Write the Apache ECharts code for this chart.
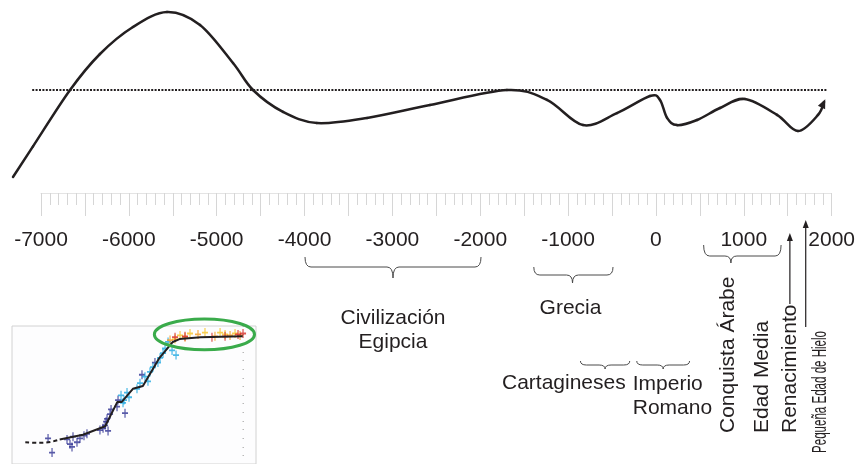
<!DOCTYPE html>
<html>
<head>
<meta charset="utf-8">
<script src="https://cdn.jsdelivr.net/npm/echarts@6.0.0/dist/echarts.min.js"></script>
<style>
  html, body { margin: 0; padding: 0; background: #fff; }
  #chart { width: 858px; height: 464px; }
</style>
</head>
<body>
<div id="chart"></div>
<script>
// curva de temperatura (años, anomalía relativa)
const curveYears = [-7318, -7091, -6670, -6330, -5955, -5568, -5193, -4818, -4591, -4250, -3864, -3295, -2580, -1705, -1250, -841, -455, -80, 34, 114, 227, 455, 716, 1000, 1364, 1602, 1830, 1898];
const curveValues = [-2.9, -1.88, 0, 1.2, 2.1, 2.6, 2.17, 0.9, 0, -0.73, -1.1, -0.93, -0.5, 0, -0.33, -1.17, -0.77, -0.2, -0.33, -0.93, -1.17, -1.0, -0.6, -0.3, -0.83, -1.37, -0.83, -0.4];
const baselineYears = [-7100, 1930];
const baselineValues = [0, 0];

// periodos históricos (llaves)
const eraNames = ['Civilización\nEgipcia', 'Grecia', 'Cartagineses', 'Imperio\nRomano', 'Conquista Árabe'];
const eraStart = [-4000, -1400, -870, -230, 530];
const eraEnd = [-2000, -500, -310, 370, 1410];
const eraTip = [-3000, -960, -590, 70, 840];

// eventos con texto vertical
const eventNames = ['Edad Media', 'Renacimiento', 'Pequeña Edad de Hielo'];
const eventYears = [1190, 1510, 1690];

// recuadro: subida del nivel del mar (miles de años, metros)
const insetDashed = [[-20.8, -124.8], [-19.3, -125.5], [-17.7, -121.5]];
const insetLine = [[-17.7, -121.5], [-15.6, -116.1], [-13.6, -106.3], [-12.5, -78], [-12.1, -78], [-11.1, -62.8], [-10.2, -59.6], [-8.7, -26.9], [-7.5, -8.5], [-6.9, -5.2], [-5.0, -3.0], [-1.2, -2.0]];
const navyPts = [[-18.75, -120.4], [-18.39, -136.7], [-17.04, -121.5], [-16.77, -127.0], [-16.59, -130.2], [-16.5, -118.3], [-16.14, -124.8], [-15.87, -120.4], [-15.51, -117.2], [-15.24, -115.0], [-14.07, -110.7], [-13.79, -108.5], [-13.61, -105.2], [-13.52, -100.9], [-13.43, -97.6], [-13.34, -111.7], [-13.16, -92.2], [-13.07, -86.7], [-12.53, -83.5], [-12.44, -75.9], [-11.81, -91.1], [-10.28, -46.5], [-9.11, -32.4]];
const bluePts = [[-12.17, -70.4], [-11.9, -75.9], [-11.63, -67.2], [-11.45, -72.6], [-11.99, -79.1], [-10.73, -62.8], [-10.46, -56.3], [-10.01, -48.7], [-9.74, -54.1], [-9.56, -43.3], [-9.29, -37.8], [-8.84, -32.4], [-8.65, -26.9], [-8.38, -21.5], [-8.2, -16.1], [-7.57, -18.3], [-7.21, -23.7], [-7.93, -8.5]];
const yellowPts = [[-6.85, -0.9], [-5.95, 1.3], [-4.6, 2.4], [-3.24, 2.4], [-1.89, 1.3], [-7.3, -5.2], [-2.79, 0.2]];
const orangePts = [[-7.75, -6.3], [-5.23, 0.2], [-3.7, -2.0], [-2.34, -0.9], [-1.44, -0.9], [-6.4, -3.0]];
const redPts = [[-7.3, -3.0], [-6.4, -2.0], [-3.97, -3.0], [-2.79, -2.0], [-1.62, 0.2], [-1.17, 1.3]];
const highlightBox = [[-9.3, 0.0, 19.8, -19.3]];

const INK = '#231f20';
const FONT = '"Liberation Sans", Arial, sans-serif';

// posición de llaves y textos (y en px de la rejilla de anotaciones)
const eraLayout = [
  { top: 257, bottom: 267, tip: 278, labelY: 330, at: 'tip', align: 'center', dx: 0 },
  { top: 267, bottom: 275, tip: 283, labelY: 308, at: 'tip', align: 'center', dx: -2 },
  { top: 361, bottom: 365, tip: 369, labelY: 383, at: 'end', align: 'right', dx: -4 },
  { top: 361, bottom: 365, tip: 369, labelY: 396, at: 'start', align: 'left', dx: -4 },
  { top: 245, bottom: 256, tip: 263, labelY: 433, at: 'tip', align: 'left', dx: -3, vertical: true }
];
const eventLayout = [
  { dx: 0, bottom: 433, arrow: null, size: 21, scale: 1 },
  { dx: 0, bottom: 433, arrow: [304, 233], size: 21, scale: 1 },
  { dx: 14, bottom: 453, arrow: [327, 220], size: 21, scale: 0.55 }
];

const myChart = echarts.init(document.getElementById('chart'));

// tramo de Catmull-Rom entre el punto i y el i+1; el último punto lleva la flecha
function renderCurve(params, api) {
  const n = curveYears.length;
  const i = params.dataIndex;
  const P = j => {
    const k = Math.max(0, Math.min(n - 1, j));
    return api.coord([curveYears[k], curveValues[k]]);
  };
  if (i === n - 1) {
    const p = P(i), q = P(i - 1);
    const len = Math.hypot(p[0] - q[0], p[1] - q[1]);
    const dx = (p[0] - q[0]) / len, dy = (p[1] - q[1]) / len;
    const tip = [p[0] + dx * 3, p[1] + dy * 3];
    const base = [p[0] - dx * 6, p[1] - dy * 6];
    return {
      type: 'polygon',
      shape: { points: [tip, [base[0] - dy * 4, base[1] + dx * 4], [base[0] + dy * 4, base[1] - dx * 4]] },
      style: { fill: INK }
    };
  }
  const p0 = P(i - 1), p1 = P(i), p2 = P(i + 1), p3 = P(i + 2);
  return {
    type: 'bezierCurve',
    shape: {
      x1: p1[0], y1: p1[1],
      cpx1: p1[0] + (p2[0] - p0[0]) / 6, cpy1: p1[1] + (p2[1] - p0[1]) / 6,
      cpx2: p2[0] - (p3[0] - p1[0]) / 6, cpy2: p2[1] - (p3[1] - p1[1]) / 6,
      x2: p2[0], y2: p2[1]
    },
    style: { stroke: INK, lineWidth: 2.5, fill: null, lineCap: 'round' }
  };
}

function brace(x1, x2, xt, y0, yb, yt) {
  const r = Math.min(6, (x2 - x1) / 8);
  const st = { stroke: '#4a4a4a', lineWidth: 1, fill: null };
  return [
    { type: 'bezierCurve', shape: { x1: x1, y1: y0, cpx1: x1, cpy1: yb, x2: x1 + r, y2: yb }, style: st },
    { type: 'line', shape: { x1: x1 + r, y1: yb, x2: xt - r, y2: yb }, style: st },
    { type: 'bezierCurve', shape: { x1: xt - r, y1: yb, cpx1: xt, cpy1: yb, x2: xt, y2: yt }, style: st },
    { type: 'bezierCurve', shape: { x1: xt, y1: yt, cpx1: xt, cpy1: yb, x2: xt + r, y2: yb }, style: st },
    { type: 'line', shape: { x1: xt + r, y1: yb, x2: x2 - r, y2: yb }, style: st },
    { type: 'bezierCurve', shape: { x1: x2 - r, y1: yb, cpx1: x2, cpy1: yb, x2: x2, y2: y0 }, style: st }
  ];
}

// texto vertical (de abajo hacia arriba); la escala va dentro del grupo girado
function verticalText(x, y, text, size, scale) {
  return {
    type: 'group', x: x, y: y, rotation: Math.PI / 2,
    children: [{
      type: 'text', x: 0, y: 0, scaleX: scale,
      style: { text: text, fill: INK, font: size + 'px ' + FONT, align: 'left', verticalAlign: 'middle' }
    }]
  };
}

function renderEra(params, api) {
  const i = api.value(3);
  const L = eraLayout[i];
  const x1 = api.coord([api.value(0), 0])[0];
  const x2 = api.coord([api.value(1), 0])[0];
  const xt = api.coord([api.value(2), 0])[0];
  const y0 = api.coord([0, L.top])[1];
  const yb = api.coord([0, L.bottom])[1];
  const yt = api.coord([0, L.tip])[1];
  const ly = api.coord([0, L.labelY])[1];
  const ax = (L.at === 'start' ? x1 : L.at === 'end' ? x2 : xt) + L.dx;
  const children = brace(x1, x2, xt, y0, yb, yt);
  if (L.vertical) {
    children.push(verticalText(ax, ly, eraNames[i], 21, 1));
  } else {
    children.push({
      type: 'text', x: ax, y: ly,
      style: { text: eraNames[i], fill: INK, font: '21px ' + FONT, align: L.align, verticalAlign: 'middle', lineHeight: 24 }
    });
  }
  return { type: 'group', children: children };
}

function renderEvent(params, api) {
  const i = api.value(1);
  const L = eventLayout[i];
  const x = api.coord([api.value(0), 0])[0];
  const children = [verticalText(x + L.dx, api.coord([0, L.bottom])[1], eventNames[i], L.size, L.scale)];
  if (L.arrow) {
    const yFrom = api.coord([0, L.arrow[0]])[1];
    const yTo = api.coord([0, L.arrow[1]])[1];
    children.push({ type: 'line', shape: { x1: x, y1: yFrom, x2: x, y2: yTo + 5 }, style: { stroke: INK, lineWidth: 1.2 } });
    children.push({ type: 'polygon', shape: { points: [[x - 3, yTo + 8], [x + 3, yTo + 8], [x, yTo]] }, style: { fill: INK } });
  }
  return { type: 'group', children: children };
}

function renderEllipse(params, api) {
  const p0 = api.coord([api.value(0), api.value(2)]);
  const p1 = api.coord([api.value(1), api.value(3)]);
  return {
    type: 'ellipse',
    shape: { cx: (p0[0] + p1[0]) / 2, cy: (p0[1] + p1[1]) / 2, rx: Math.abs(p1[0] - p0[0]) / 2 - 1.5, ry: Math.abs(p1[1] - p0[1]) / 2 - 1.5 },
    style: { fill: null, stroke: '#3aab4b', lineWidth: 3 }
  };
}

const plus = 'path://M2,0h1v2h2v1h-2v2h-1v-2h-2v-1h2z';
function scatter(data, color) {
  return {
    type: 'scatter', xAxisIndex: 3, yAxisIndex: 3, data: data, symbol: plus, symbolSize: [6, 9],
    itemStyle: { color: color, opacity: 0.8 }, silent: true, z: 2
  };
}

const option = {
  animation: false,
  backgroundColor: '#fff',
  grid: [
    { left: 5.8, width: 827.2, top: 0, height: 180 },
    { left: 41, width: 792, top: 193, height: 20 },
    { left: 41, width: 792, top: 0, height: 464 },
    { left: 12, width: 244, top: 326, height: 147.2, show: true, borderColor: '#d2d2d2', borderWidth: 1, backgroundColor: '#fdfdfe' }
  ],
  xAxis: [
    { gridIndex: 0, type: 'value', min: -7400, max: 2000, show: false },
    {
      gridIndex: 1, type: 'value', position: 'top', min: -7000, max: 2000, interval: 500,
      axisLine: { show: true, onZero: false, lineStyle: { color: '#e4e4e4', width: 1 } },
      axisTick: { show: true, inside: true, length: 23, lineStyle: { color: '#d6d6d6' } },
      minorTick: { show: true, splitNumber: 5, length: 12, lineStyle: { color: '#d6d6d6' } },
      axisLabel: {
        inside: true, margin: 37, color: INK, fontSize: 21, fontFamily: FONT,
        formatter: v => (v % 1000 === 0 ? String(v) : '')
      },
      splitLine: { show: false }
    },
    { gridIndex: 2, type: 'value', min: -7000, max: 2000, show: false },
    { gridIndex: 3, type: 'value', min: -22, max: 0, show: false }
  ],
  yAxis: [
    { gridIndex: 0, type: 'value', min: -3, max: 3, show: false },
    { gridIndex: 1, type: 'value', min: 0, max: 1, show: false },
    { gridIndex: 2, type: 'value', min: 0, max: 464, inverse: true, show: false },
    { gridIndex: 3, type: 'value', min: -150, max: 10, show: false },
    {
      gridIndex: 3, type: 'value', position: 'right', offset: -12, min: -150, max: 10, interval: 10,
      axisLine: { show: false }, axisLabel: { show: false }, splitLine: { show: false },
      axisTick: { show: true, inside: true, length: 1.5, lineStyle: { color: '#b8b8b8' } }
    }
  ],
  series: [
    {
      type: 'line', xAxisIndex: 0, yAxisIndex: 0, symbol: 'none', silent: true,
      data: baselineYears.map((y, i) => [y, baselineValues[i]]),
      lineStyle: { color: INK, width: 2, type: [2, 1.4] }
    },
    {
      type: 'custom', xAxisIndex: 0, yAxisIndex: 0, renderItem: renderCurve, silent: true, z: 3,
      data: curveYears.map((y, i) => [y, curveValues[i]])
    },
    {
      type: 'custom', xAxisIndex: 2, yAxisIndex: 2, renderItem: renderEra, silent: true,
      data: eraNames.map((n, i) => [eraStart[i], eraEnd[i], eraTip[i], i])
    },
    {
      type: 'custom', xAxisIndex: 2, yAxisIndex: 2, renderItem: renderEvent, silent: true,
      data: eventYears.map((y, i) => [y, i])
    },
    {
      type: 'line', xAxisIndex: 3, yAxisIndex: 3, data: insetDashed, symbol: 'none', smooth: true, z: 3,
      lineStyle: { color: INK, width: 2, type: [4, 3] }, silent: true
    },
    scatter(navyPts, '#2e3192'),
    scatter(bluePts, '#1ea7e1'),
    scatter(yellowPts, '#f6c324'),
    scatter(orangePts, '#f39a1e'),
    scatter(redPts, '#d42a26'),
    {
      type: 'line', xAxisIndex: 3, yAxisIndex: 3, data: insetLine, symbol: 'none', z: 3,
      lineStyle: { color: INK, width: 2 }, silent: true
    },
    {
      type: 'custom', xAxisIndex: 3, yAxisIndex: 3, renderItem: renderEllipse, silent: true, z: 4,
      data: highlightBox
    }
  ]
};

myChart.setOption(option);
</script>
</body>
</html>
